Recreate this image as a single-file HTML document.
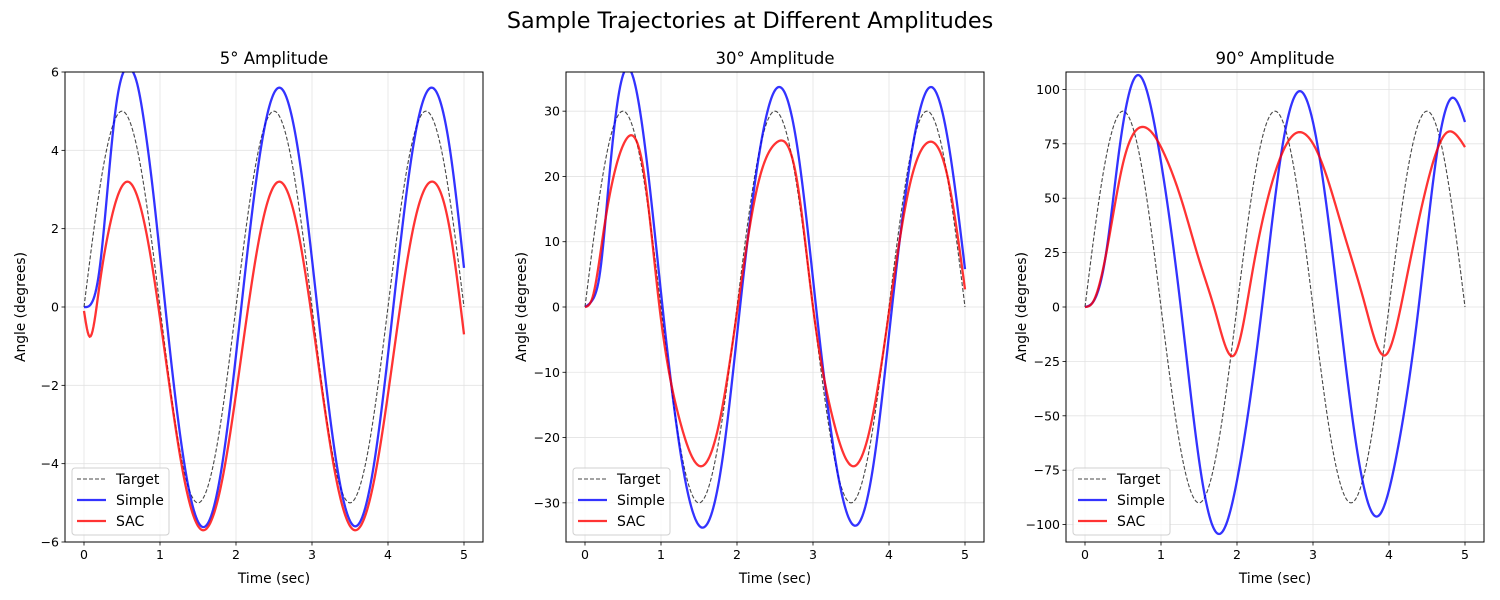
<!DOCTYPE html>
<html><head><meta charset="utf-8">
<style>
html,body{margin:0;padding:0;background:#fff;}
svg{display:block;font-family:"DejaVu Sans","Liberation Sans",sans-serif;}
</style></head>
<body>
<svg id="fig" width="1500" height="600" viewBox="0 0 1500 600">
<text x="750" y="28" font-size="22.3" text-anchor="middle">Sample Trajectories at Different Amplitudes</text>
</svg>
<script>
// ---- data ----
const panelTitles = ["5° Amplitude", "30° Amplitude", "90° Amplitude"];
const amplitudes = [5, 30, 90];
const yTicks1 = [-6, -4, -2, 0, 2, 4, 6];
const yTicks2 = [-30, -20, -10, 0, 10, 20, 30];
const yTicks3 = [-100, -75, -50, -25, 0, 25, 50, 75, 100];
const xTicks = [0, 1, 2, 3, 4, 5];
const yLims = [[-6, 6], [-36, 36], [-108, 108]];
const targetT = [0,0.25,0.5,0.75,1,1.25,1.5,1.75,2,2.25,2.5,2.75,3,3.25,3.5,3.75,4,4.25,4.5,4.75,5];
const targetShape = [0,0.707,1,0.707,0,-0.707,-1,-0.707,0,0.707,1,0.707,0,-0.707,-1,-0.707,0,0.707,1,0.707,0];

const simpleT1 = [0,0.1,0.2,0.3,0.4,0.5,0.6,0.7,0.8,0.9,1.07,1.32,1.57,1.82,2.07,2.32,2.57,2.82,3.07,3.32,3.57,3.82,4.07,4.32,4.57,4.82,5];
const simpleV1 = [0,0.1,0.9,2.8,4.8,5.9,6.1,5.7,4.6,3.1,0,-4.0,-5.62,-4.0,0,3.96,5.6,3.96,0,-3.96,-5.6,-3.96,0,3.96,5.6,3.96,1.0];
const sacT1 = [0,0.07,0.2,0.32,0.57,0.82,1.07,1.32,1.57,1.82,2.07,2.32,2.57,2.82,3.07,3.32,3.57,3.82,4.07,4.32,4.57,4.82,5];
const sacV1 = [-0.1,-0.75,0.5,1.9,3.2,1.9,-1.25,-4.4,-5.7,-4.4,-1.25,1.9,3.2,1.9,-1.25,-4.4,-5.7,-4.4,-1.25,1.9,3.2,1.9,-0.7];

const simpleT2 = [0,0.1,0.2,0.32,0.45,0.57,0.75,1.02,1.28,1.55,1.8,2.04,2.3,2.55,2.8,3.04,3.3,3.55,3.8,4.04,4.3,4.55,4.8,5];
const simpleV2 = [0,1.1,5.5,20,33,36.6,28,0,-24,-33.8,-24,0,24,33.7,24,0,-23.8,-33.5,-23.8,0,23.8,33.7,23.8,5.8];
const sacT2 = [0,0.1,0.25,0.51,0.77,0.98,1.25,1.53,1.78,2.01,2.26,2.52,2.78,3.0,3.27,3.53,3.78,4.01,4.26,4.51,4.77,5];
const sacV2 = [0,1.5,12,25,21,0,-17.5,-24.4,-17,0,18,25.2,20,0,-17.5,-24.4,-17,0,18,25.2,20,2.7];

const simpleT3 = [0,0.1,0.27,0.45,0.7,0.95,1.26,1.52,1.77,2.03,2.33,2.58,2.83,3.08,3.34,3.59,3.84,4.1,4.39,4.62,4.84,5];
const simpleV3 = [0,2,23,72,106.6,77,0,-75,-104.3,-74,0,70,99.2,70,0,-68,-96.3,-68,0,68,96.2,85];
const sacT3 = [0,0.1,0.27,0.5,0.74,1.06,1.28,1.5,1.72,1.97,2.2,2.46,2.78,3.12,3.38,3.69,3.95,4.21,4.47,4.77,5];
const sacV3 = [0,2,23,66,82.7,69,48,21.8,-2.8,-21.8,15.6,57,80,66,37,0.3,-22.2,9.5,52,80.4,73.5];

const yTickSets = [yTicks1, yTicks2, yTicks3];
const simpleTs = [simpleT1, simpleT2, simpleT3], simpleVs = [simpleV1, simpleV2, simpleV3];
const sacTs = [sacT1, sacT2, sacT3], sacVs = [sacV1, sacV2, sacV3];

// ---- layout ----
const axLeft = [65, 566, 1066], axW = 418, axTop = 72, axH = 470;
const xMin = -0.25, xMax = 5.25;
const NS = "http://www.w3.org/2000/svg";
const fig = document.getElementById('fig');
function mk(tag, attrs, parent) {
  const e = document.createElementNS(NS, tag);
  for (const k in attrs) e.setAttribute(k, attrs[k]);
  (parent || fig).appendChild(e);
  return e;
}
// natural cubic spline
function spline(ts, vs, n) {
  const m = ts.length, h = [], al = [], l = [1], mu = [0], z = [0], c = new Array(m).fill(0), b = [], d = [];
  for (let i = 0; i < m - 1; i++) h.push(ts[i + 1] - ts[i]);
  for (let i = 1; i < m - 1; i++) al[i] = 3 / h[i] * (vs[i + 1] - vs[i]) - 3 / h[i - 1] * (vs[i] - vs[i - 1]);
  for (let i = 1; i < m - 1; i++) {
    l[i] = 2 * (ts[i + 1] - ts[i - 1]) - h[i - 1] * mu[i - 1];
    mu[i] = h[i] / l[i];
    z[i] = (al[i] - h[i - 1] * z[i - 1]) / l[i];
  }
  for (let j = m - 2; j >= 0; j--) {
    c[j] = (j > 0 ? z[j] : 0) - mu[j] * c[j + 1];
    b[j] = (vs[j + 1] - vs[j]) / h[j] - h[j] * (c[j + 1] + 2 * c[j]) / 3;
    d[j] = (c[j + 1] - c[j]) / (3 * h[j]);
  }
  const out = [];
  for (let k = 0; k <= n; k++) {
    const t = ts[0] + (ts[m - 1] - ts[0]) * k / n;
    let i = 0; while (i < m - 2 && t > ts[i + 1]) i++;
    const dx = t - ts[i];
    out.push([t, vs[i] + b[i] * dx + c[i] * dx * dx + d[i] * dx * dx * dx]);
  }
  return out;
}

for (let p = 0; p < 3; p++) {
  const L = axLeft[p], lim = yLims[p];
  const X = t => L + (t - xMin) / (xMax - xMin) * axW;
  const Y = v => axTop + (lim[1] - v) / (lim[1] - lim[0]) * axH;
  const g = mk('g', {});
  
  
  const cp = mk('clipPath', { id: 'clip' + p }, g);
  mk('rect', { x: L, y: axTop, width: axW, height: axH }, cp);
  xTicks.forEach(t => {
    const ln = mk('line', { x1: X(t), x2: X(t), y1: axTop, y2: axTop + axH, stroke: '#e3e3e3', 'stroke-width': 0.8 }, g);
    
    
    mk('line', { x1: X(t), x2: X(t), y1: axTop + axH, y2: axTop + axH + 3.5, stroke: '#000', 'stroke-width': 0.8 }, g);
    const tx = mk('text', { x: X(t), y: axTop + axH + 17, 'font-size': 12.5, 'text-anchor': 'middle' }, g);
    tx.textContent = t;
    
    
  });
  yTickSets[p].forEach(v => {
    const ln = mk('line', { x1: L, x2: L + axW, y1: Y(v), y2: Y(v), stroke: '#e3e3e3', 'stroke-width': 0.8 }, g);
    
    
    mk('line', { x1: L - 3.5, x2: L, y1: Y(v), y2: Y(v), stroke: '#000', 'stroke-width': 0.8 }, g);
    const tx = mk('text', { x: L - 6, y: Y(v) + 4.5, 'font-size': 12.5, 'text-anchor': 'end' }, g);
    tx.textContent = v < 0 ? '\u2212' + (-v) : v;
    
    
  });
  const series = [
    { name: 'target-line', pts: spline(targetT, targetShape.map(s => s * amplitudes[p]), 400), stroke: 'rgba(0,0,0,0.72)', w: 1.1, dash: '4,2' },
    { name: 'simple-line', pts: spline(simpleTs[p], simpleVs[p], 400), stroke: 'rgba(0,0,255,0.8)', w: 2.3, dash: '' },
    { name: 'sac-line', pts: spline(sacTs[p], sacVs[p], 400), stroke: 'rgba(255,0,0,0.8)', w: 2.3, dash: '' }
  ];
  series.forEach(s => {
    const d = s.pts.map((q, i) => (i ? 'L' : 'M') + X(q[0]).toFixed(2) + ' ' + Y(q[1]).toFixed(2)).join('');
    const path = mk('path', { d: d, fill: 'none', stroke: s.stroke, 'stroke-width': s.w, 'clip-path': 'url(#clip' + p + ')' }, g);
    if (s.dash) path.setAttribute('stroke-dasharray', s.dash);
    
    
  });
  mk('rect', { x: L, y: axTop, width: axW, height: axH, fill: 'none', stroke: '#000', 'stroke-width': 1 }, g);
  const tt = mk('text', { x: L + axW / 2, y: 64, 'font-size': 16.5, 'text-anchor': 'middle' }, g);
  tt.textContent = panelTitles[p];
  
  
  const xl = mk('text', { x: L + axW / 2, y: 583, 'font-size': 13.8, 'text-anchor': 'middle' }, g);
  xl.textContent = 'Time (sec)';
  
  
  const ylx = L - 40;
  const yl = mk('text', { x: ylx, y: 307, 'font-size': 13.8, 'text-anchor': 'middle', transform: 'rotate(-90 ' + ylx + ' 307)' }, g);
  yl.textContent = 'Angle (degrees)';
  
  
  const lg = mk('g', {}, g);
  
  
  mk('rect', { x: L + 7, y: 468, width: 97, height: 67, rx: 3, fill: 'rgba(255,255,255,0.8)', stroke: '#d0d0d0', 'stroke-width': 1 }, lg);
  const items = [['Target', 'rgba(0,0,0,0.72)', 1.1, '4,2'], ['Simple', 'rgba(0,0,255,0.8)', 2.3, ''], ['SAC', 'rgba(255,0,0,0.8)', 2.3, '']];
  items.forEach((it, i) => {
    const yy = 479 + i * 21;
    const ln = mk('line', { x1: L + 12, x2: L + 41, y1: yy, y2: yy, stroke: it[1], 'stroke-width': it[2] }, lg);
    if (it[3]) ln.setAttribute('stroke-dasharray', it[3]);
    const tx = mk('text', { x: L + 51, y: yy + 5, 'font-size': 14, 'textLength': 0 }, lg);
    tx.removeAttribute('textLength');
    tx.textContent = it[0];
    
    
  });
}
</script>
</body></html>
